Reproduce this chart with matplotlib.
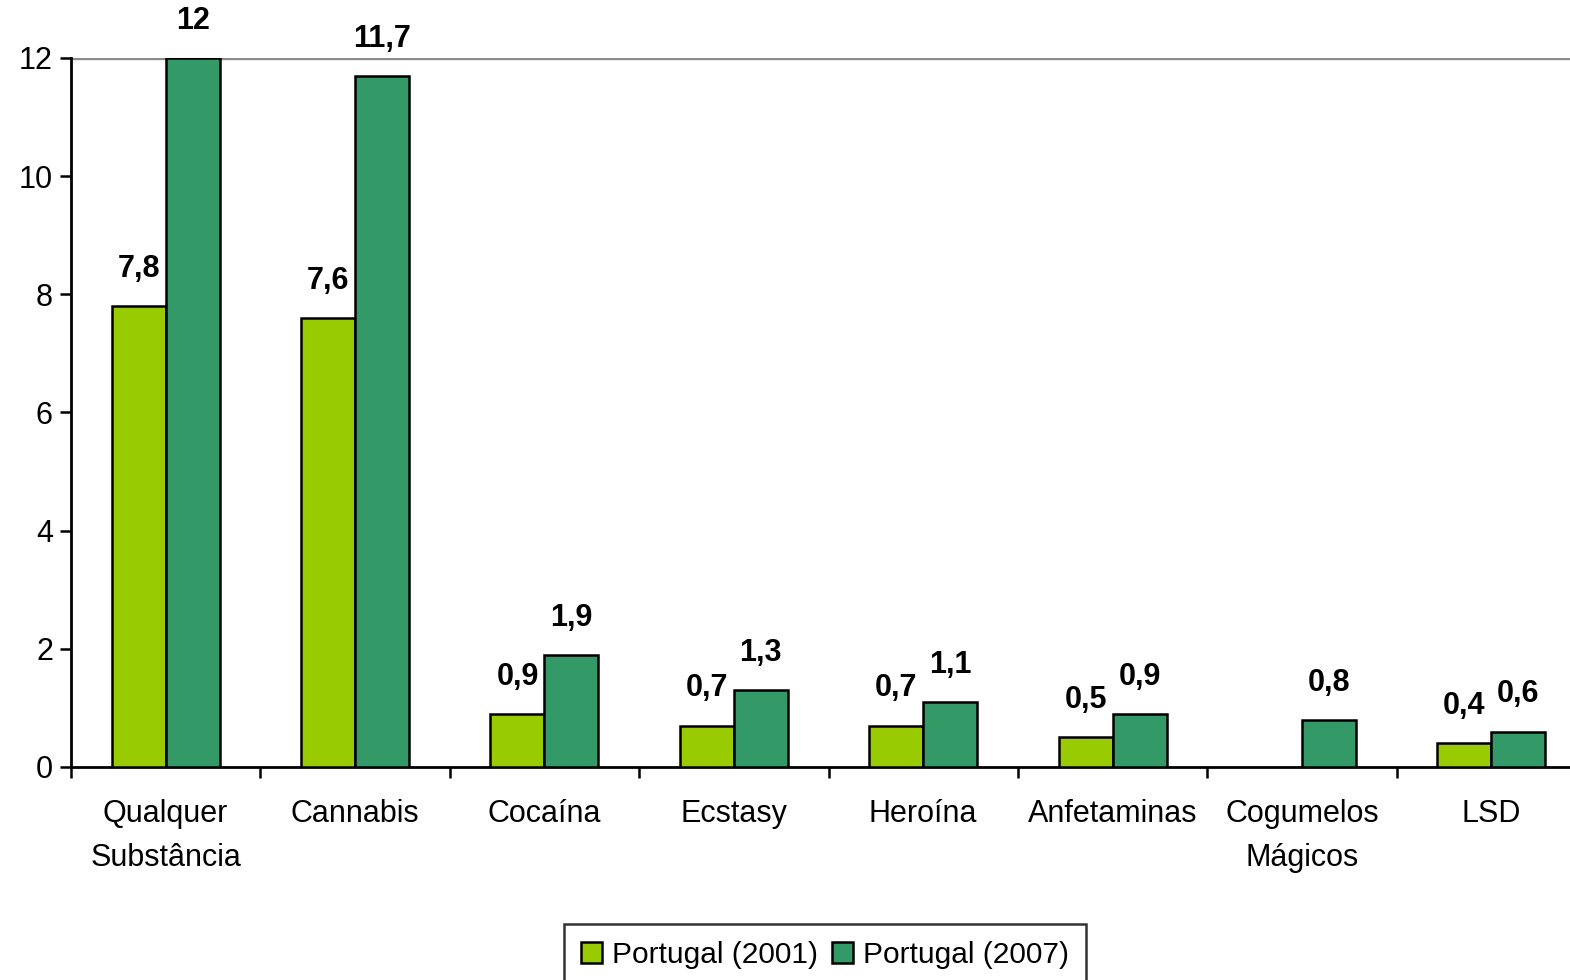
import numpy as np
import matplotlib.pyplot as plt
from matplotlib.ticker import FixedLocator

# data
categories = ["Qualquer\nSubstância", "Cannabis", "Cocaína", "Ecstasy",
              "Heroína", "Anfetaminas", "Cogumelos\nMágicos", "LSD"]
vals_2001 = [7.8, 7.6, 0.9, 0.7, 0.7, 0.5, np.nan, 0.4]
vals_2007 = [12, 11.7, 1.9, 1.3, 1.1, 0.9, 0.8, 0.6]
series_names = ["Portugal (2001)", "Portugal (2007)"]

plt.rcParams['font.family'] = ['Liberation Sans', 'DejaVu Sans']

def fmt(v):
    s = f"{v:g}"
    return s.replace(".", ",")

fig = plt.figure(figsize=(15.7, 9.8), dpi=100)
ax = fig.add_axes([71 / 1570, 1 - 767 / 980, 1515 / 1570, 709 / 980])

x = np.arange(len(categories))
w = 0.285
b1 = ax.bar(x - w / 2, vals_2001, w, color='#99CC00', edgecolor='black', linewidth=1.8,
            label=series_names[0], zorder=3)
b2 = ax.bar(x + w / 2, vals_2007, w, color='#339966', edgecolor='black', linewidth=1.8,
            label=series_names[1], zorder=3)

# value labels
for bars, vals in ((b1, vals_2001), (b2, vals_2007)):
    for rect, v in zip(bars, vals):
        if np.isnan(v):
            continue
        ax.annotate(fmt(v), (rect.get_x() + rect.get_width() / 2, v),
                    xytext=(0, 16), textcoords='offset points',
                    ha='center', va='bottom', fontsize=22, fontweight='bold')

ax.set_xlim(-0.5, len(categories) - 0.5)
ax.set_ylim(0, 12)
ax.set_yticks(range(0, 13, 2))
ax.set_xticks(x)
ax.set_xticklabels(categories, fontsize=22, linespacing=1.6)
ax.xaxis.set_minor_locator(FixedLocator(np.arange(-0.5, len(categories), 1)))
ax.tick_params(axis='x', which='major', length=0, pad=23)
ax.tick_params(axis='x', which='minor', length=8, width=1.8, direction='out')
ax.tick_params(axis='y', length=8, width=1.8, labelsize=22, pad=5)

for s in ('top', 'right'):
    ax.spines[s].set_visible(False)
for s in ('left', 'bottom'):
    ax.spines[s].set_linewidth(2)
ax.axhline(12, color='#8c8c8c', linewidth=2.4, zorder=1)

leg = fig.legend(loc='upper center', bbox_to_anchor=(825 / 1570, 1 - 924 / 980),
                 ncol=2, fontsize=21.5, frameon=True, fancybox=False, edgecolor='black',
                 handlelength=0.7, handleheight=0.7, handletextpad=0.35,
                 columnspacing=0.45, borderpad=0.58, borderaxespad=0)
leg.get_frame().set_linewidth(1.8)

fig.savefig("out.png", dpi=100)
